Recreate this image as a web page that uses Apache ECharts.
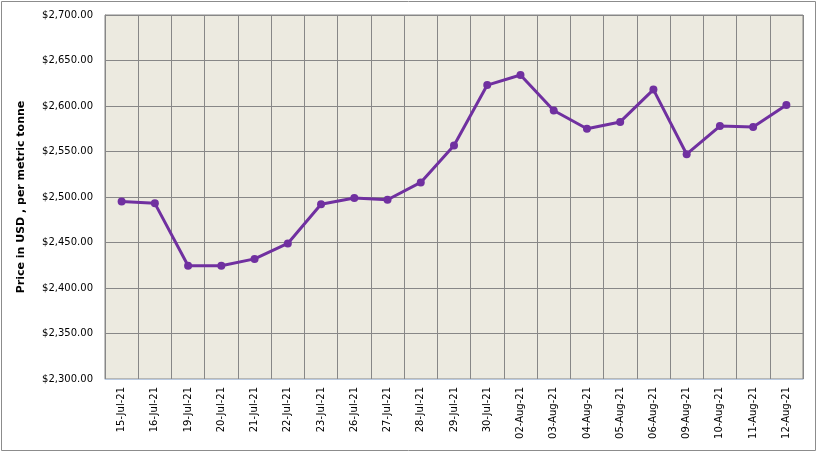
<!DOCTYPE html>
<html>
<head>
<meta charset="utf-8">
<script src="https://cdn.jsdelivr.net/npm/echarts@6/dist/echarts.min.js"></script>
<style>
  html, body { margin: 0; padding: 0; background: #fff; }
  #chart { width: 818px; height: 453px; }
</style>
</head>
<body>
<div id="chart"></div>
<script>
  const dates = [
    '15-Jul-21', '16-Jul-21', '19-Jul-21', '20-Jul-21', '21-Jul-21', '22-Jul-21',
    '23-Jul-21', '26-Jul-21', '27-Jul-21', '28-Jul-21', '29-Jul-21', '30-Jul-21',
    '02-Aug-21', '03-Aug-21', '04-Aug-21', '05-Aug-21', '06-Aug-21', '09-Aug-21',
    '10-Aug-21', '11-Aug-21', '12-Aug-21',
  ];
  const prices = [
    2495, 2493, 2424.5, 2424.5, 2432, 2449,
    2492, 2499, 2497, 2516, 2556.5, 2623,
    2634, 2595, 2575, 2582.5, 2618, 2547,
    2578, 2577, 2601,
  ];
  const yMin = 2300;
  const yMax = 2700;
  const yStep = 50;

  const chart = echarts.init(document.getElementById('chart'));
  const gridColor = '#878787';

  const option = {
    backgroundColor: '#fff',
    animation: false,
    graphic: [
      {
        type: 'rect',
        shape: { x: 1.5, y: 1.5, width: 814, height: 449 },
        style: { fill: 'none', stroke: '#8c8c8c', lineWidth: 1 },
        silent: true,
      },
    ],
    grid: {
      left: 105,
      top: 15,
      right: 15,
      bottom: 74,
      show: true,
      backgroundColor: '#ECEAE0',
      borderColor: gridColor,
      borderWidth: 1,
    },
    xAxis: {
      type: 'category',
      data: dates,
      boundaryGap: true,
      axisLine: { lineStyle: { color: '#b9c9e0', width: 1 } },
      axisTick: { show: false },
      axisLabel: {
        rotate: 90,
        interval: 0,
        margin: 8,
        color: '#000',
        fontFamily: 'DejaVu Sans',
        fontSize: 10,
      },
      splitLine: { show: true, interval: 0, lineStyle: { color: gridColor, width: 1 } },
    },
    yAxis: {
      type: 'value',
      min: yMin,
      max: yMax,
      interval: yStep,
      name: 'Price in USD , per metric tonne',
      nameLocation: 'middle',
      nameGap: 78,
      nameTextStyle: {
        color: '#000',
        fontFamily: 'DejaVu Sans',
        fontWeight: 'bold',
        fontSize: 11,
      },
      axisLine: { show: true, lineStyle: { color: gridColor } },
      axisTick: { show: false },
      axisLabel: {
        margin: 12,
        color: '#000',
        fontFamily: 'DejaVu Sans',
        fontSize: 10,
        formatter: (v) => '$' + v.toLocaleString('en-US', { minimumFractionDigits: 2, maximumFractionDigits: 2 }),
      },
      splitLine: { show: true, lineStyle: { color: gridColor, width: 1 } },
    },
    series: [
      {
        type: 'line',
        data: prices,
        symbol: 'circle',
        symbolSize: 8,
        itemStyle: { color: '#7030A0' },
        lineStyle: { color: '#7030A0', width: 3 },
      },
    ],
  };
  chart.setOption(option);
</script>
</body>
</html>
